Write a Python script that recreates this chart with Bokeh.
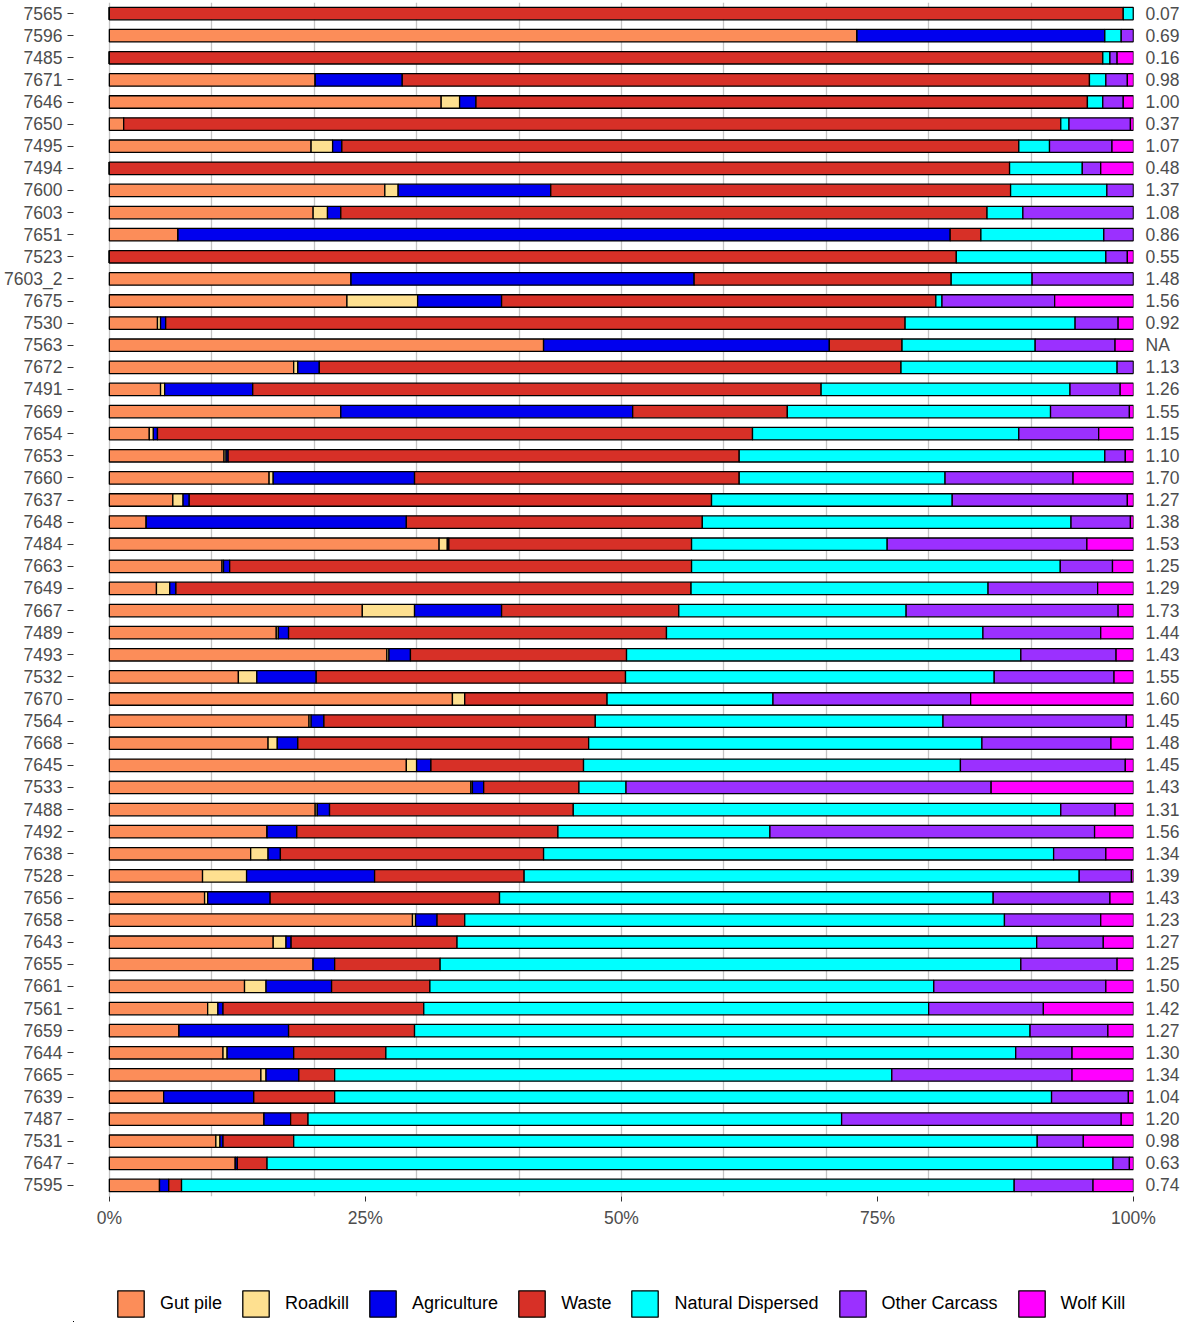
from bokeh.plotting import figure
from bokeh.models import (ColumnDataSource, Range1d, FixedTicker,
                          LinearAxis, Legend, LegendItem)
from bokeh.layouts import column
from bokeh.embed import file_html
from bokeh.resources import INLINE

ids = ["7565", "7596", "7485", "7671", "7646", "7650", "7495", "7494", "7600",
       "7603", "7651", "7523", "7603_2", "7675", "7530", "7563", "7672", "7491",
       "7669", "7654", "7653", "7660", "7637", "7648", "7484", "7663", "7649",
       "7667", "7489", "7493", "7532", "7670", "7564", "7668", "7645", "7533",
       "7488", "7492", "7638", "7528", "7656", "7658", "7643", "7655", "7661",
       "7561", "7659", "7644", "7665", "7639", "7487", "7531", "7647", "7595"]

right_labels = ["0.07", "0.69", "0.16", "0.98", "1.00", "0.37", "1.07", "0.48", "1.37",
                "1.08", "0.86", "0.55", "1.48", "1.56", "0.92", "NA", "1.13", "1.26",
                "1.55", "1.15", "1.10", "1.70", "1.27", "1.38", "1.53", "1.25", "1.29",
                "1.73", "1.44", "1.43", "1.55", "1.60", "1.45", "1.48", "1.45", "1.43",
                "1.31", "1.56", "1.34", "1.39", "1.43", "1.23", "1.27", "1.25", "1.50",
                "1.42", "1.27", "1.30", "1.34", "1.04", "1.20", "0.98", "0.63", "0.74"]

categories = ["Gut pile", "Roadkill", "Agriculture", "Waste",
              "Natural Dispersed", "Other Carcass", "Wolf Kill"]
colors = ["#FC8D59", "#FEE090", "#0000EE", "#D73027", "#00FFFF", "#9B30FF", "#FF00FF"]

gut_pile = [0, 73.0, 0, 20.1, 32.4, 1.4, 19.7, 0, 26.9,
            19.9, 6.7, 0, 23.6, 23.2, 4.7, 42.4, 18.0, 5.0,
            22.6, 3.9, 11.2, 15.6, 6.2, 3.6, 32.2, 11.0, 4.6,
            24.7, 16.3, 27.1, 12.6, 33.5, 19.5, 15.5, 29.0, 35.3,
            20.1, 15.4, 13.8, 9.1, 9.3, 29.6, 16.0, 19.9, 13.2,
            9.6, 6.8, 11.1, 14.8, 5.3, 15.1, 10.4, 12.3, 4.9]
roadkill = [0, 0, 0, 0, 1.8, 0, 2.1, 0, 1.3,
            1.4, 0, 0, 0, 6.9, 0.3, 0, 0.4, 0.4,
            0, 0.4, 0.2, 0.4, 1.0, 0, 0.8, 0.15, 1.3,
            5.1, 0.2, 0.2, 1.8, 1.2, 0.2, 0.9, 1.0, 0.15,
            0.2, 0, 1.7, 4.3, 0.3, 0.3, 1.25, 0, 2.1,
            1.0, 0, 0.4, 0.5, 0, 0, 0.4, 0, 0]
agriculture = [0, 24.2, 0, 8.5, 1.6, 0, 0.9, 0, 14.9,
               1.3, 75.4, 0, 33.5, 8.2, 0.5, 27.9, 2.1, 8.6,
               28.5, 0.4, 0.2, 13.8, 0.6, 25.4, 0.15, 0.6, 0.6,
               8.5, 1.0, 2.1, 5.8, 0, 1.25, 2.0, 1.4, 1.1,
               1.2, 2.9, 1.2, 12.5, 6.1, 2.1, 0.5, 2.1, 6.4,
               0.5, 10.7, 6.5, 3.2, 8.8, 2.6, 0.3, 0.2, 0.9]
waste = [99.0, 0, 97.0, 67.1, 59.7, 91.5, 66.1, 87.9, 44.9,
         63.1, 3.0, 82.7, 25.1, 42.4, 72.2, 7.1, 56.8, 55.5,
         15.1, 58.1, 49.9, 31.7, 51.0, 28.9, 23.7, 45.1, 50.3,
         17.3, 36.9, 21.1, 30.2, 13.9, 26.5, 28.4, 14.9, 9.3,
         23.8, 25.5, 25.7, 14.6, 22.4, 2.7, 16.2, 10.3, 9.6,
         19.6, 12.3, 9.0, 3.5, 7.9, 1.7, 6.9, 2.9, 1.25]
natural_dispersed = [1.0, 1.6, 0.7, 1.6, 1.5, 0.8, 3.0, 7.1, 9.4,
                     3.5, 12.0, 14.6, 7.9, 0.6, 16.6, 13.0, 21.1, 24.3,
                     25.7, 26.0, 35.7, 20.1, 23.5, 36.0, 19.1, 36.0, 29.0,
                     22.2, 30.9, 38.5, 36.0, 16.2, 33.95, 38.4, 36.8, 4.6,
                     47.6, 20.7, 49.8, 54.2, 48.2, 52.7, 56.6, 56.7, 49.2,
                     49.3, 60.1, 61.5, 54.4, 70.0, 52.1, 72.6, 82.6, 81.3]
other_carcass = [0, 1.2, 0.7, 2.1, 2.0, 6.0, 6.1, 1.8, 2.6,
                 10.8, 2.9, 2.1, 9.9, 11.0, 4.2, 7.8, 1.6, 4.9,
                 7.7, 7.8, 2.0, 12.5, 17.1, 5.8, 19.5, 5.1, 10.7,
                 20.7, 11.5, 9.3, 11.7, 19.3, 17.9, 12.6, 16.1, 35.65,
                 5.3, 31.7, 5.1, 5.1, 11.4, 9.4, 6.5, 9.4, 16.8,
                 11.2, 7.6, 5.5, 17.6, 7.5, 27.3, 4.5, 1.6, 7.7]
wolf_kill = [0, 0, 1.6, 0.6, 1.0, 0.3, 2.1, 3.2, 0,
             0, 0, 0.6, 0, 7.7, 1.5, 1.8, 0, 1.3,
             0.4, 3.4, 0.8, 5.9, 0.6, 0.3, 4.55, 2.05, 3.5,
             1.5, 3.2, 1.7, 1.9, 15.9, 0.7, 2.2, 0.8, 13.9,
             1.8, 3.8, 2.7, 0.2, 2.3, 3.2, 2.95, 1.6, 2.7,
             8.8, 2.5, 6.0, 6.0, 0.5, 1.2, 4.9, 0.4, 3.95]

x_ticks = [0, 25, 50, 75, 100]
x_tick_labels = ["0%", "25%", "50%", "75%", "100%"]
grid_ticks = [0, 10, 20, 30, 40, 50, 60, 70, 80, 90, 100]

n = len(ids)
row_pos = [n - 0.5 - i for i in range(n)]  # first id on top

series = [gut_pile, roadkill, agriculture, waste, natural_dispersed, other_carcass, wolf_kill]
data = {"id": ids, "pos": row_pos}
for c, s in zip(categories, series):
    data[c] = s
source = ColumnDataSource(data)

FONT = "Liberation Sans"
TXT = "#4D4D4D"
BAR_H = 0.565

p = figure(y_range=Range1d(0, n), x_range=Range1d(-3.5, 100),
           frame_width=1060, frame_height=1194,
           output_backend="svg", toolbar_location=None,
           min_border_top=2, min_border_left=73, min_border_right=48, min_border_bottom=0)

p.hbar_stack(categories, y="pos", height=BAR_H, color=colors,
             line_color="black", line_width=1.3, source=source)

p.outline_line_color = None
p.background_fill_color = "white"
p.ygrid.grid_line_color = None
p.xgrid.ticker = FixedTicker(ticks=grid_ticks)
p.xgrid.grid_line_color = "#C4C4C4"
p.xgrid.grid_line_width = 1.3

xa = p.xaxis[0]
xa.ticker = FixedTicker(ticks=x_ticks)
xa.major_label_overrides = dict(zip(x_ticks, x_tick_labels))
xa.axis_line_color = None
xa.major_tick_line_color = "#333333"
xa.major_tick_out = 5
xa.major_tick_in = 0
xa.minor_tick_line_color = None
xa.major_label_text_font = FONT
xa.major_label_text_font_size = "17.5px"
xa.major_label_text_color = TXT
xa.major_label_standoff = 6

ya = p.yaxis[0]
ya.ticker = FixedTicker(ticks=row_pos)
ya.major_label_overrides = dict(zip(row_pos, ids))
ya.axis_line_color = None
ya.major_tick_line_color = "#333333"
ya.minor_tick_line_color = None
ya.major_tick_out = 6
ya.major_tick_in = 0
ya.major_label_text_font = FONT
ya.major_label_text_font_size = "17.5px"
ya.major_label_text_color = TXT
ya.major_label_standoff = 5

ra = LinearAxis(ticker=FixedTicker(ticks=row_pos),
                major_label_overrides=dict(zip(row_pos, right_labels)))
ra.axis_line_color = None
ra.major_tick_line_color = None
ra.minor_tick_line_color = None
ra.major_tick_out = 0
ra.major_tick_in = 0
ra.major_label_text_font = FONT
ra.major_label_text_font_size = "17.5px"
ra.major_label_text_color = TXT
ra.major_label_standoff = 12
p.add_layout(ra, "right")

# legend strip: a second figure whose frame holds the legend (bars kept out of view)
lf = figure(width=1181, height=92, x_range=Range1d(1000, 1001), y_range=Range1d(1000, 1001),
            x_axis_type=None, y_axis_type=None,
            output_backend="svg", toolbar_location=None,
            min_border_top=0, min_border_left=0, min_border_right=0, min_border_bottom=0)
lf.outline_line_color = None
lf.xgrid.grid_line_color = None
lf.ygrid.grid_line_color = None
leg_renderers = lf.hbar_stack(categories, y="pos", height=BAR_H, color=colors,
                              line_color="black", line_width=1.3, source=source)

legend = Legend(items=[LegendItem(label=c, renderers=[r]) for c, r in zip(categories, leg_renderers)],
                orientation="horizontal", location=(41, 2),
                glyph_width=33, glyph_height=33, label_standoff=13, spacing=17,
                padding=0, margin=0, border_line_color=None, background_fill_alpha=0,
                label_text_font=FONT, label_text_font_size="18px", label_text_color="black")
lf.add_layout(legend)

layout = column(p, lf, spacing=0)

open("out.html", "w").write(file_html(layout, INLINE))
